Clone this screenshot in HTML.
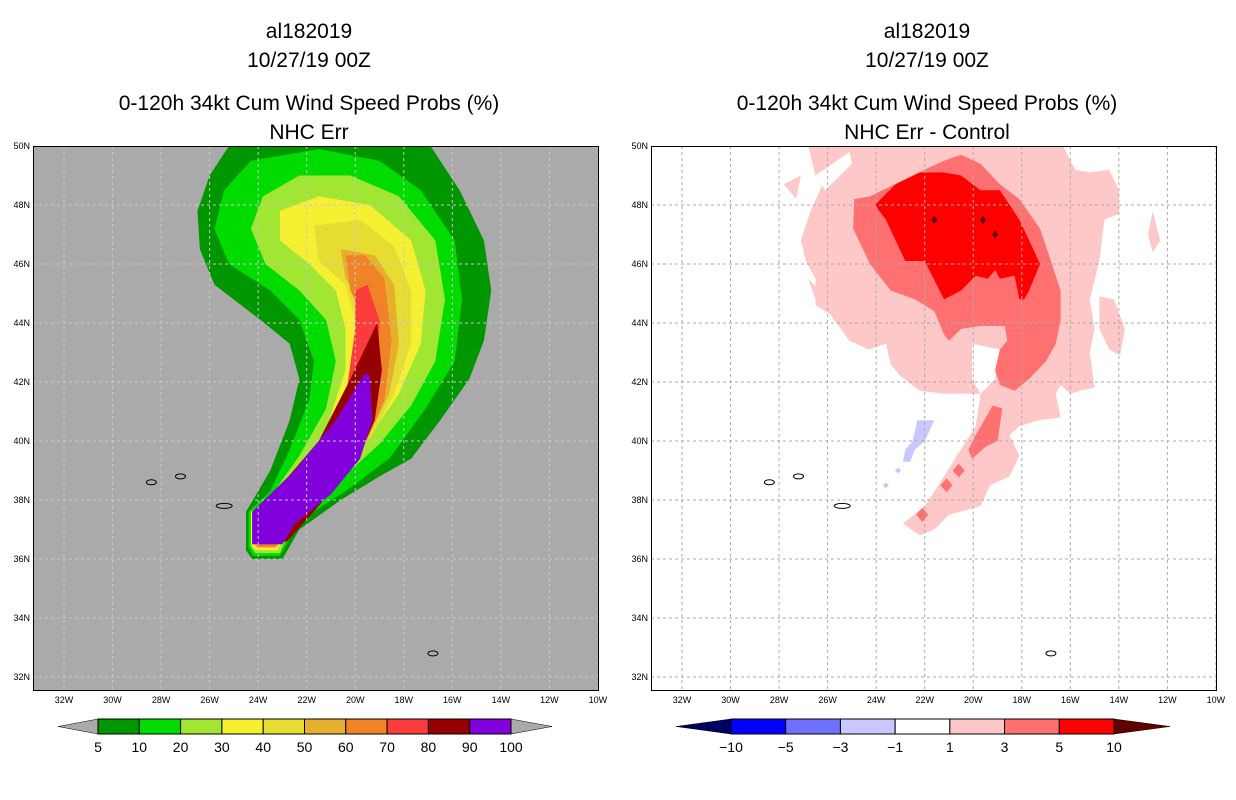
<!DOCTYPE html>
<html><head><meta charset="utf-8"><style>
html,body{margin:0;padding:0;background:#fff;}
svg{display:block;font-family:"Liberation Sans",sans-serif;}
</style></head><body>
<svg id="s" width="1236" height="800" viewBox="0 0 1236 800" xmlns="http://www.w3.org/2000/svg">
<g id="titles" font-size="21" text-anchor="middle" fill="#000">
<text x="309" y="38">al182019</text>
<text x="309" y="67">10/27/19 00Z</text>
<text x="309" y="110">0-120h 34kt Cum Wind Speed Probs (%)</text>
<text x="309" y="139">NHC Err</text>
<text x="927" y="38">al182019</text>
<text x="927" y="67">10/27/19 00Z</text>
<text x="927" y="110">0-120h 34kt Cum Wind Speed Probs (%)</text>
<text x="927" y="139">NHC Err - Control</text>
</g>
</svg>
<script>
// ---- data (lon in degrees West, lat in degrees North) ----
const latTicks=[50,48,46,44,42,40,38,36,34,32];
const lonTicks=[32,30,28,26,24,22,20,18,16,14,12,10];
const probLevels=[5,10,20,30,40,50,60,70,80,90,100];
const probColors=["#009600","#00dc00","#a0e632","#f5f032","#e6dc32","#e6af2d","#f08228","#fa3c3c","#960000","#8200dc"];
const diffLevels=[-10,-5,-3,-1,1,3,5,10];
const diffColors=["#0000ff","#7070ff","#c8c8ff","#ffffff","#ffc8c8","#ff7070","#ff0000"];
const prob5=[[25.2,50],[16.9,50],[15.7,48.5],[14.7,46.8],[14.4,45.1],[14.7,43.4],[15.3,42.1],[16.5,40.7],[17.7,39.4],[19.0,38.8],[20.6,38.0],[22.3,37.0],[23.0,36.0],[24.25,36.0],[24.5,36.3],[24.5,37.6],[23.5,39.0],[22.7,40.7],[22.3,42.1],[22.7,43.3],[23.9,44.1],[25.8,45.3],[26.4,46.5],[26.5,47.8],[26.0,49.0]];
const prob10=[[24.3,49.5],[21.5,49.9],[19.0,49.5],[17.3,48.5],[15.9,46.8],[15.6,44.8],[15.9,42.7],[17.1,41.1],[18.6,39.4],[20.4,38.3],[22.3,37.3],[23.1,36.1],[24.2,36.1],[24.4,36.4],[24.4,37.6],[23.5,38.3],[22.7,39.7],[21.9,41.4],[21.7,42.7],[22.3,44.1],[23.5,45.1],[25.2,46.0],[25.8,47.2],[25.4,48.5]];
const prob20=[[23.8,48.3],[22.3,49.0],[20.2,49.0],[18.2,48.3],[16.7,46.8],[16.3,44.8],[16.7,42.7],[17.7,41.2],[19.0,39.9],[20.6,38.7],[22.4,37.6],[23.1,36.2],[24.1,36.2],[24.3,36.4],[24.3,37.6],[23.6,38.0],[22.3,39.5],[21.2,41.1],[20.8,42.7],[21.2,44.1],[22.3,45.1],[23.7,46.0],[24.3,47.2]];
const prob30=[[23.1,47.8],[21.5,48.3],[19.4,48.0],[17.7,46.8],[17.1,45.1],[17.3,43.3],[18.2,41.6],[19.2,40.4],[20.8,39.0],[22.5,37.5],[23.2,36.3],[24.1,36.3],[24.3,36.5],[24.3,37.6],[22.9,38.3],[21.2,40.4],[20.4,42.4],[20.4,43.8],[20.8,45.1],[21.9,46.0],[23.1,46.8]];
const prob40=[[21.7,47.3],[19.8,47.5],[18.4,46.6],[17.7,45.1],[17.7,43.3],[18.4,41.6],[19.3,40.2],[20.8,38.7],[22.6,37.3],[23.2,36.4],[24.05,36.4],[24.25,36.5],[24.25,37.6],[22.7,38.5],[20.8,40.7],[20.0,42.4],[20.0,44.1],[20.4,45.3],[21.5,46.1]];
const prob50=[[20.6,46.5],[19.2,46.3],[18.4,45.3],[18.2,43.3],[18.6,41.6],[19.6,39.9],[21.0,38.3],[22.6,37.2],[23.3,36.4],[24.05,36.4],[24.2,36.6],[24.2,37.6],[22.9,38.2],[21.0,40.0],[19.8,42.1],[19.6,43.4],[19.8,44.8],[20.4,45.5]];
const prob60=[[20.4,46.3],[19.6,46.3],[18.8,45.5],[18.5,43.4],[18.8,41.4],[19.7,39.7],[21.2,38.2],[22.7,36.9],[23.3,36.4],[24.0,36.4],[24.2,36.6],[24.2,37.6],[21.5,39.4],[19.8,41.4],[19.6,44.1],[20.2,45.1]];
const prob70=[[20.0,45.1],[19.5,45.3],[19.0,44.1],[19.1,41.4],[19.8,39.5],[21.5,38.0],[22.8,36.7],[23.3,36.5],[24.0,36.5],[24.1,36.6],[24.1,37.5],[21.7,39.4],[20.4,41.4],[20.0,43.8]];
const prob80=[[19.1,44.0],[18.9,42.4],[19.2,40.7],[19.9,39.4],[21.5,37.8],[22.8,36.6],[23.9,36.5],[24.1,37.5],[21.5,40.0],[20.2,42.1]];
const prob90=[[19.6,42.3],[19.4,42.2],[19.3,40.7],[19.8,39.4],[21.0,38.2],[22.5,37.2],[23.0,36.5],[24.25,36.5],[24.25,37.6],[22.5,39.0],[20.8,40.7]];
const probLayers=[prob5,prob10,prob20,prob30,prob40,prob50,prob60,prob70,prob80,prob90];
const diffPink=[[26.8,50],[16.3,50],[15.8,49.2],[15.2,49.1],[14.4,49.2],[14.0,48.5],[14.0,47.7],[14.6,47.5],[14.8,46.1],[15.2,44.8],[15.0,43.8],[15.2,43.0],[15.0,41.8],[15.6,41.7],[16.0,41.6],[16.4,41.9],[16.6,41.6],[16.4,40.8],[17.3,40.7],[18.1,40.5],[18.5,40.2],[18.1,39.5],[18.5,38.8],[19.3,38.5],[19.7,37.8],[20.1,37.7],[21.0,37.5],[21.6,37.0],[22.2,36.8],[22.9,37.2],[22.0,37.8],[21.2,38.8],[20.6,39.6],[19.9,40.5],[19.7,41.6],[21.2,41.6],[22.2,41.7],[23.0,42.2],[23.4,42.6],[23.6,43.3],[24.3,43.1],[25.1,43.4],[25.9,44.3],[26.5,44.6],[26.5,45.5],[26.9,46.1],[27.1,46.8],[26.7,47.8],[26.2,48.7],[26.5,49.0]];
const diffPinkA=[[27.8,48.7],[27.1,49.0],[27.3,48.2]];
const diffPinkB=[[26.8,45.5],[26.1,44.9],[26.1,44.6],[26.5,44.8]];
const diffPinkC=[[14.8,44.9],[14.2,44.8],[13.75,43.8],[13.95,42.9],[14.4,43.1],[14.8,43.8]];
const diffPinkD=[[12.6,47.8],[12.3,46.8],[12.6,46.4],[12.8,47.0]];
const diffHoleA=[[20.05,43.3],[18.9,43.1],[19.1,42.1],[19.7,41.6],[20.05,42.1]];
const diffHoleB=[[25.1,49.8],[25.0,49.4],[26.1,48.5],[26.5,49.0]];
const diffMed=[[24.25,48.3],[22.0,49.2],[21.2,49.5],[20.5,49.7],[19.7,49.4],[18.9,48.7],[18.1,48.2],[17.25,47.2],[16.8,46.1],[16.4,45.1],[16.4,44.1],[16.6,43.3],[17.0,42.7],[17.7,42.1],[18.3,41.7],[18.9,41.9],[19.1,42.4],[18.9,43.1],[18.6,43.4],[18.7,43.9],[19.7,43.9],[20.5,43.8],[21.0,43.4],[21.2,43.6],[21.6,44.4],[22.4,44.8],[23.4,45.1],[24.25,46.0],[24.95,47.2],[24.9,48.2]];
const diffMedTongue=[[19.2,41.2],[18.8,41.1],[19.0,40.0],[19.5,39.8],[20.05,39.4],[20.2,39.7],[19.9,40.2]];
const diffMedSpots=[[20.6,39.0],[21.1,38.5],[22.1,37.5]];
const diffRed=[[24.05,48.0],[23.2,48.7],[22.2,49.1],[21.2,49.1],[20.5,49.0],[19.7,48.5],[18.9,48.5],[18.1,47.5],[17.7,46.8],[17.25,46.0],[17.7,45.1],[17.9,44.8],[18.1,44.8],[18.3,45.6],[18.9,45.5],[19.1,45.8],[19.4,45.5],[19.9,45.6],[20.5,45.1],[21.2,44.8],[22.0,46.1],[22.8,46.1],[23.2,46.8],[23.6,47.5]];
const diffDarkSpots=[[21.6,47.5],[19.6,47.5],[19.1,47.0]];
const diffBlue=[[22.3,40.7],[21.6,40.7],[22.0,40.0],[22.4,39.7],[22.6,39.3],[22.9,39.3],[22.8,39.7],[22.5,40.0]];
const diffBlueSpots=[[23.1,39.0],[23.6,38.5]];
const islands=[[28.4,38.6],[27.2,38.8],[25.4,37.8],[16.8,32.8]];

// ---- axes ----
const NS="http://www.w3.org/2000/svg";
const svg=document.getElementById('s');
const PX0=[33,651],PW=565,PY0=146,PH=544;
function xs(p,lonW){return PX0[p]+31+(32-lonW)*24.27;}
function ys(lat){return 677-(lat-32)*29.5;}
function mk(tag,attrs,parent){const e=document.createElementNS(NS,tag);for(const k in attrs)e.setAttribute(k,attrs[k]);(parent||svg).appendChild(e);return e;}
function pts(p,arr){return arr.map(d=>xs(p,d[0]).toFixed(1)+","+ys(d[1]).toFixed(1)).join(" ");}

for(let p=0;p<2;p++){
  const g=mk('g',{});
  
  
  const cp=mk('clipPath',{id:'cp'+p},g);
  mk('rect',{x:PX0[p],y:PY0,width:PW,height:PH},cp);
  const bg=mk('rect',{x:PX0[p],y:PY0,width:PW,height:PH,fill:p?'#ffffff':'#aaaaaa'},g);
  
  
  const f=mk('g',{'clip-path':'url(#cp'+p+')'},g);
  if(p===0){
    probLayers.forEach((L,i)=>{
      const e=mk('polygon',{points:pts(0,L),fill:probColors[i]},f);
      
      
    });
  } else {
    [diffPink,diffPinkA,diffPinkB,diffPinkC,diffPinkD].forEach(L=>{
      const e=mk('polygon',{points:pts(1,L),fill:diffColors[4]},f);
      
      
    });
    [diffHoleA,diffHoleB].forEach(L=>{
      const e=mk('polygon',{points:pts(1,L),fill:'#ffffff'},f);
      
      
    });
    [diffMed,diffMedTongue].forEach(L=>{
      const e=mk('polygon',{points:pts(1,L),fill:diffColors[5]},f);
      
      
    });
    diffMedSpots.forEach(d=>{
      const x=xs(1,d[0]),y=ys(d[1]);
      const e=mk('polygon',{points:`${x},${y-7} ${x+6},${y} ${x},${y+7} ${x-6},${y}`,fill:diffColors[5]},f);
      
      
    });
    const r=mk('polygon',{points:pts(1,diffRed),fill:diffColors[6]},f);
    
    
    diffDarkSpots.forEach(d=>{
      const x=xs(1,d[0]),y=ys(d[1]);
      const e=mk('polygon',{points:`${x},${y-4} ${x+3},${y} ${x},${y+4} ${x-3},${y}`,fill:'#600000'},f);
      
      
    });
    const b=mk('polygon',{points:pts(1,diffBlue),fill:diffColors[2]},f);
    
    
    diffBlueSpots.forEach(d=>{
      const x=xs(1,d[0]),y=ys(d[1]);
      const e=mk('polygon',{points:`${x},${y-3} ${x+3},${y} ${x},${y+3} ${x-3},${y}`,fill:diffColors[2]},f);
      
      
    });
  }
  // grid
  latTicks.forEach(la=>{
    const y=ys(la);
    const l=mk('line',{x1:PX0[p],x2:PX0[p]+PW,y1:y,y2:y,stroke:p?'#aaaaaa':'#c8c8c8','stroke-width':1,'stroke-dasharray':'3,3'},f);
    
    
    const t=mk('text',{x:PX0[p]-3,y:y+3,'font-size':9,'text-anchor':'end'},g);
    t.textContent=la+'N';
    
    
  });
  lonTicks.forEach(lo=>{
    const x=xs(p,lo);
    const l=mk('line',{x1:x,x2:x,y1:PY0,y2:PY0+PH,stroke:p?'#aaaaaa':'#c8c8c8','stroke-width':1,'stroke-dasharray':'3,3'},f);
    
    
    const t=mk('text',{x:x,y:PY0+PH+13,'font-size':9,'text-anchor':'middle'},g);
    t.textContent=lo+'W';
    
    
  });
  islands.forEach((d,i)=>{
    const e=mk('ellipse',{cx:xs(p,d[0]),cy:ys(d[1]),rx:i===2?8:5,ry:2.5,fill:'none',stroke:'#000','stroke-width':1},f);
    
    
  });
  const fr=mk('rect',{x:PX0[p]+0.5,y:PY0+0.5,width:PW,height:PH,fill:'none',stroke:'#000','stroke-width':1},g);
  
  
}

// ---- colorbars ----
function colorbar(x0,x1,tipL,tipR,colors,labels,endL,endR,name){
  const g=mk('g',{});
  
  
  const y0=719,y1=734,ym=726.5,w=(x1-x0)/colors.length;
  const a=mk('polygon',{points:`${tipL},${ym} ${x0},${y0} ${x0},${y1}`,fill:endL,stroke:'#000','stroke-width':0.5},g);
  
  
  const b=mk('polygon',{points:`${tipR},${ym} ${x1},${y0} ${x1},${y1}`,fill:endR,stroke:'#000','stroke-width':0.5},g);
  
  
  colors.forEach((c,i)=>{
    const r=mk('rect',{x:x0+i*w,y:y0,width:w,height:y1-y0,fill:c,stroke:'#000','stroke-width':1},g);
    
    
  });
  labels.forEach((lb,i)=>{
    const t=mk('text',{x:x0+i*w,y:752,'font-size':14,'text-anchor':'middle'},g);
    t.textContent=String(lb).replace('-','\u2212');
    
    
  });
}
colorbar(98,511,58,552,probColors,probLevels,'#aaaaaa','#aaaaaa','prob-colorbar');
colorbar(731,1114,676,1170,diffColors,diffLevels,'#000060','#600000','diff-colorbar');
</script>
</body></html>
